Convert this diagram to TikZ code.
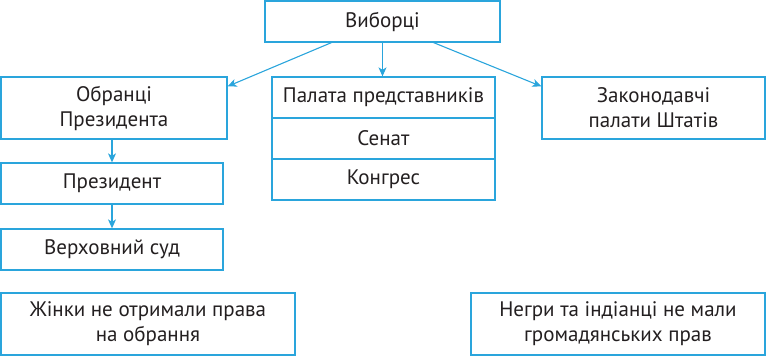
\documentclass[tikz,border=0pt]{standalone}
\usepackage{fontspec}
\setmainfont{PT Sans}
\usetikzlibrary{positioning,arrows.meta,calc}
\definecolor{lineblue}{HTML}{2AA5DC}
\definecolor{textgray}{HTML}{231F20}
\begin{document}
\begin{tikzpicture}[
  x=1pt, y=-1pt,
  box/.style={draw=lineblue, line width=1.3pt, text=textgray, align=center,
    inner sep=0pt, minimum width=#1,
    font=\fontsize{21pt}{25pt}\selectfont},
  box/.default=223pt,
  link/.style={draw=lineblue, line width=1.1pt,
    -{Stealth[length=9pt,width=8pt,inset=2.5pt]}}
]
\useasboundingbox (0,0) rectangle (766,356);

% Top
\node[box=235pt, minimum height=41pt] (vyb) at (382.5,21.5) {Виборці};

% Left column
\node[box=226pt, minimum height=62pt] (obr) at (114,108) {Обранці\\Президента};
\node[box=222pt, minimum height=41pt] (prez) at (112,183.5) {Президент};
\node[box=222pt, minimum height=41pt] (sud) at (112,249.5) {Верховний суд};

% Middle column
\node[box, minimum height=41pt] (pal) at (383.5,97.5) {Палата представників};
\node[box, minimum height=41pt] (sen) at (383.5,138.5) {Сенат};
\node[box, minimum height=41pt] (kon) at (383.5,179.5) {Конгрес};

% Right column
\node[box, minimum height=62pt] (zak) at (653.5,108) {Законодавчі\\палати Штатів};

% Bottom notes
\node[box=294pt, minimum height=62pt] (zhin) at (148,324) {Жінки не отримали права\\на обрання};
\node[box=294pt, minimum height=62pt] (negr) at (618,324) {Негри та індіанці не мали\\громадянських прав};

% Arrows
\draw[link] ($(vyb.south west)+(67,0)$) -- ($(obr.north east)+(0,10)$);
\draw[link] (vyb.south) -- (vyb.south |- pal.north);
\draw[link] ($(vyb.south east)+(-67,0)$) -- ($(zak.north west)+(0,10)$);
\draw[link] (prez.north |- obr.south) -- (prez.north);
\draw[link] (prez.south) -- (sud.north);

\end{tikzpicture}
\end{document}
